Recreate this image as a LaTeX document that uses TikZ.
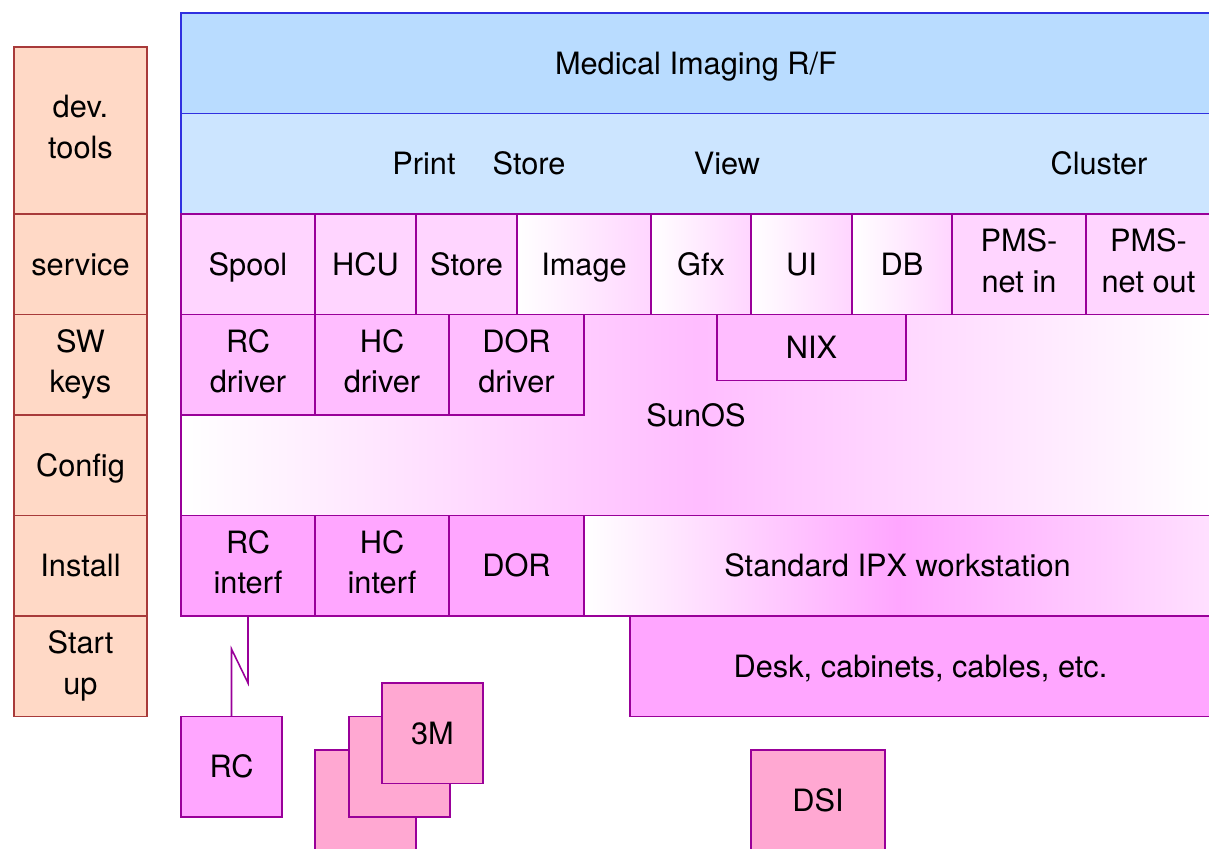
\documentclass[tikz,border=0pt]{standalone}
\usepackage{fontspec}
\setmainfont{TeX Gyre Heros}
\usepackage{tikz}
\usetikzlibrary{positioning}
\definecolor{sidefill}{HTML}{FFD9C6}
\definecolor{sideline}{HTML}{A83A3A}
\definecolor{topblue}{HTML}{B9DCFF}
\definecolor{appblue}{HTML}{CCE5FF}
\definecolor{blueline}{HTML}{3030E0}
\definecolor{svcpink}{HTML}{FFD5FF}
\definecolor{drvpink}{HTML}{FFBDFF}
\definecolor{hwpink}{HTML}{FFA6FF}
\definecolor{prnpink}{HTML}{FFA8D2}
\definecolor{purpleline}{HTML}{990099}
\newcommand{\capstrut}{\rule[-4.4pt]{0pt}{21.4pt}}

\begin{document}
\begin{tikzpicture}[
    every node/.style={
        outer sep=0pt,
        inner sep=0pt,
        align=center,
        execute at begin node=\capstrut,
        execute at end node=\capstrut,
        font=\fontsize{17.5}{23}\selectfont},
    side/.style={draw=sideline, fill=sidefill, line width=0.9pt, minimum width=2.66cm, minimum height=2.01cm},
    band/.style={draw=blueline, line width=0.9pt, minimum width=20.60cm, minimum height=2.01cm},
    layer/.style={draw=purpleline, line width=0.9pt, minimum height=2.01cm},
    svc/.style={layer, fill=svcpink},
    svcfade/.style={layer, left color=white, right color=svcpink},
    drv/.style={layer, fill=drvpink},
    hw/.style={layer, fill=hwpink},
    prn/.style={layer, fill=prnpink, minimum width=2.02cm}]
    \useasboundingbox (0,0) rectangle (24.18,-16.96);
    \clip (0,0) rectangle (24.18,-16.96);

    % left column
    \node[side, minimum height=3.34cm, anchor=north west] (devtools) at (0.28,-0.94) {dev.\\ tools};
    \node[side, below=0pt of devtools] (service) {service};
    \node[side, below=0pt of service] (swkeys) {SW\\ keys};
    \node[side, below=0pt of swkeys] (config) {Config};
    \node[side, below=0pt of config] (install) {Install};
    \node[side, below=0pt of install] (startup) {Start\\ up};

    % application layers
    \node[band, fill=topblue, anchor=north west] (medical) at (3.62,-0.26) {Medical Imaging R/F};
    \node[band, fill=appblue, below=0pt of medical] (apps) {};
    \node (print) at (8.48,-3.27) {Print};
    \node (storeapp) at (10.58,-3.27) {Store};
    \node (view) at (14.54,-3.27) {View};
    \node (cluster) at (21.98,-3.27) {Cluster};

    % services
    \node[svc, minimum width=2.68cm, below right=0pt of apps.south west] (spool) {Spool};
    \node[svc, minimum width=2.02cm, right=0pt of spool] (hcu) {HCU};
    \node[svc, minimum width=2.02cm, right=0pt of hcu] (store) {Store};
    \node[svcfade, minimum width=2.68cm, right=0pt of store] (image) {Image};
    \node[svcfade, minimum width=2.0cm, right=0pt of image] (gfx) {Gfx};
    \node[svcfade, minimum width=2.02cm, right=0pt of gfx] (ui) {UI};
    \node[svcfade, minimum width=2.0cm, right=0pt of ui] (db) {DB};
    \node[svc, minimum width=2.68cm, right=0pt of db] (pmsin) {PMS-\\net in};
    \node[svc, minimum width=2.50cm, right=0pt of pmsin] (pmsout) {PMS-\\net out};

    % operating system
    \node[layer, left color=white, right color=white, middle color=drvpink,
        minimum width=20.60cm, minimum height=4.02cm, below right=0pt of spool.south west] (sunos) {SunOS};
    \node[drv, minimum width=2.68cm, below right=0pt of spool.south west] (rcdrv) {RC\\ driver};
    \node[drv, minimum width=2.68cm, right=0pt of rcdrv] (hcdrv) {HC\\ driver};
    \node[drv, minimum width=2.70cm, right=0pt of hcdrv] (dordrv) {DOR\\ driver};
    \node[drv, minimum width=3.78cm, minimum height=1.32cm, anchor=north west] (nix) at (14.34,-6.29) {NIX};

    % hardware
    \node[hw, minimum width=2.68cm, below right=0pt of sunos.south west] (rcif) {RC\\ interf};
    \node[hw, minimum width=2.68cm, right=0pt of rcif] (hcif) {HC\\ interf};
    \node[hw, minimum width=2.70cm, right=0pt of hcif] (dor) {DOR};
    \node[layer, left color=white, right color=hwpink!35, middle color=hwpink,
        minimum width=12.54cm, right=0pt of dor] (ipx) {Standard IPX workstation};
    \node[hw, minimum width=11.62cm, below right=0pt and 0.92cm of ipx.south west] (desk) {Desk, cabinets, cables, etc.};
    \node[hw, minimum width=2.02cm, below right=2.01cm and 0pt of rcif.south west] (rc) {RC};

    % printers
    \node[prn, anchor=north west] (printc) at (6.30,-15.00) {};
    \node[prn, anchor=north west] (printb) at (6.98,-14.33) {};
    \node[prn, anchor=north west] (printa) at (7.64,-13.66) {3M};
    \node[prn, minimum width=2.68cm, anchor=north west] (dsi) at (15.02,-15.00) {DSI};

    \draw[purpleline, line width=0.9pt] (rcif.south) -- ++(0,-1.34) -- ([yshift=1.35cm]rc.north) -- (rc.north);
\end{tikzpicture}
\end{document}
